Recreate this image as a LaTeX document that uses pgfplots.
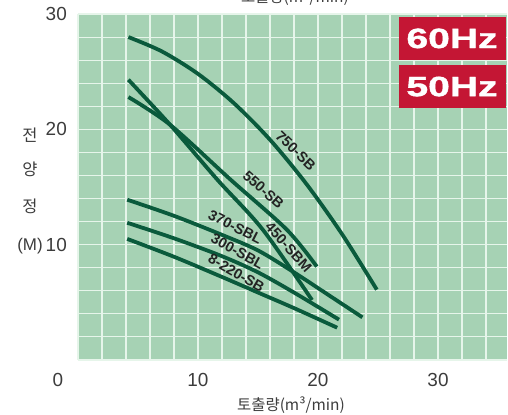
\documentclass[border=0pt]{standalone}
\usepackage{pgfplots}
\pgfplotsset{compat=1.18}
\usepackage{graphicx}
\usepackage{fontspec}
\setmainfont{Liberation Sans}
\newfontfamily\kr{Noto Sans CJK KR}
\newfontfamily\hzfont{Liberation Sans}[FakeBold=1.2]
\definecolor{bggreen}{RGB}{166,210,180}
\definecolor{gridc}{RGB}{230,245,234}
\definecolor{curve}{RGB}{10,90,60}
\definecolor{badge}{RGB}{196,22,52}
\definecolor{txt}{RGB}{60,60,60}
\definecolor{lbl}{RGB}{35,35,35}
\begin{document}
\begin{tikzpicture}
\path[use as bounding box] (-78bp,-55bp) rectangle (430bp,360bp);
\begin{axis}[
  scale only axis, width=429bp, height=346bp,
  xmin=0, xmax=35.75, ymin=0, ymax=30,
  axis line style={draw=none},
  axis background/.style={fill=bggreen},
  xtick={10,20,30}, ytick={10,20,30},
  minor xtick={0,2,...,34}, minor ytick={0,2,...,30},
  grid=both,
  major grid style={draw=gridc, line width=1.6bp},
  minor grid style={draw=gridc, line width=1.1bp},
  major tick length=0pt, minor tick length=0pt,
  tick style={draw=none},
  /pgf/number format/assume math mode=true,
  ticklabel style={font=\fontsize{19}{19}\selectfont, text=txt, inner sep=0pt},
  xticklabel style={anchor=base, yshift=-26.5bp},
  yticklabel style={anchor=east, xshift=-11bp},
  clip=false,
]
% curves
\addplot[curve, line width=3.8bp, smooth] coordinates {
  (4.2,28.0) (7,26.75) (10,24.81) (13,22.26) (16,19.1) (19,15.31) (22,10.92) (24.9,6.1)};
\addplot[curve, line width=3.8bp, smooth] coordinates {
  (4.2,22.8) (7.67,20.4) (12.7,15.65) (17.4,11.3) (19.9,8.1)};
\addplot[curve, line width=3.8bp, smooth] coordinates {
  (4.2,24.3) (7.67,20.4) (11.6,15.65) (15.4,11.3) (19.5,5.2)};
\addplot[curve, line width=3.8bp, smooth] coordinates {
  (4.1,13.9) (8,12.5) (12,10.85) (15,9.5) (18,7.6) (21,5.55) (23.7,3.7)};
\addplot[curve, line width=3.8bp, smooth] coordinates {
  (4.1,11.9) (8,10.55) (12,9.0) (15,7.6) (18,5.85) (21.75,3.5)};
\addplot[curve, line width=3.8bp, smooth] coordinates {
  (4.1,10.5) (8,8.95) (12,7.2) (15,5.85) (18,4.5) (21.6,2.8)};
% curve labels
\begin{scope}[every node/.style={font=\fontsize{14.5}{14.5}\selectfont\bfseries, text=lbl, inner sep=0pt}]
\node[rotate=-44] at (axis cs:18.15,18.15) {750-SB};
\node[rotate=-42] at (axis cs:15.45,14.75) {550-SB};
\node[rotate=-48] at (axis cs:17.55,9.8) {450-SBM};
\node[rotate=-27] at (axis cs:13.1,11.55) {370-SBL};
\node[rotate=-29] at (axis cs:13.3,9.45) {300-SBL};
\node[rotate=-30] at (axis cs:13.2,7.55) {8-220-SB};
\end{scope}
% badges
\node[fill=badge, minimum width=107bp, minimum height=43bp, inner sep=0pt, text=white]
  at (axis cs:31.17,27.88) {\scalebox{1.4}[1]{\hzfont\fontsize{28}{28}\selectfont\bfseries 60Hz}};
\node[fill=badge, minimum width=107bp, minimum height=43bp, inner sep=0pt, text=white]
  at (axis cs:31.17,23.71) {\scalebox{1.4}[1]{\hzfont\fontsize{28}{28}\selectfont\bfseries 50Hz}};
% axis texts
\node[font=\fontsize{19}{19}\selectfont, text=txt, inner sep=0pt] at (axis cs:-1.67,-1.73) {0};
\node[font=\kr\fontsize{15.5}{15.5}\selectfont, text=txt, inner sep=0pt] at (axis cs:17.75,-3.9) {토출량(m³/min)};
\node[font=\kr\fontsize{15.5}{15.5}\selectfont, text=txt, inner sep=0pt, anchor=base] at (axis cs:18.08,31.0) {토출량(m³/min)};
\node[font=\kr\fontsize{16.5}{16.5}\selectfont, text=txt, inner sep=0pt] at (axis cs:-4,19.5) {전};
\node[font=\kr\fontsize{16.5}{16.5}\selectfont, text=txt, inner sep=0pt] at (axis cs:-4,16.5) {양};
\node[font=\kr\fontsize{16.5}{16.5}\selectfont, text=txt, inner sep=0pt] at (axis cs:-4,13.3) {정};
\node[font=\fontsize{17}{17}\selectfont, text=txt, inner sep=0pt] at (axis cs:-4,9.9) {(M)};
\end{axis}
\end{tikzpicture}
\end{document}
